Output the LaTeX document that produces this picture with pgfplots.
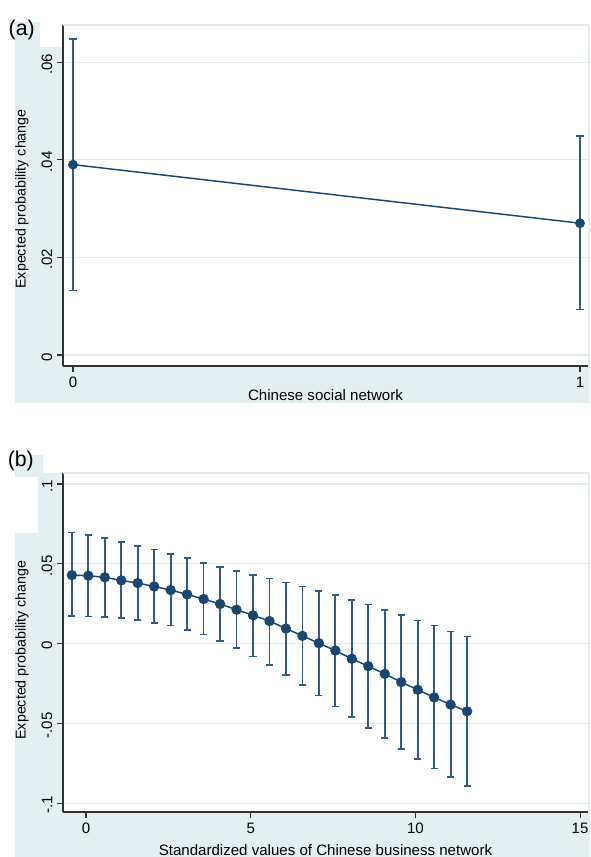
\documentclass[border=0pt]{standalone}
\usepackage{fontspec}
\setmainfont{Liberation Sans}
\usepackage{pgfplots}
\pgfplotsset{compat=1.18}
\usepackage{pgfplotstable}

\definecolor{bgblue}{RGB}{228,239,242}
\definecolor{gridblue}{RGB}{224,236,240}
\definecolor{navy}{RGB}{26,71,111}
\definecolor{errblue}{RGB}{50,90,140}
\definecolor{axisgray}{RGB}{50,50,50}

\pgfplotstableread{
x y lo hi
0 0.0390 0.0132 0.0648
1 0.0270 0.0093 0.0449
}\tabA

\pgfplotstableread{
x y lo hi
-0.43 0.0429 0.0171 0.0696
0.07 0.0425 0.0169 0.0681
0.57 0.0415 0.0165 0.0660
1.07 0.0396 0.0158 0.0635
1.57 0.0379 0.0148 0.0613
2.07 0.0358 0.0129 0.0590
2.57 0.0335 0.0113 0.0563
3.07 0.0308 0.0086 0.0535
3.57 0.0279 0.0056 0.0506
4.07 0.0248 0.0014 0.0481
4.57 0.0212 -0.0029 0.0456
5.07 0.0177 -0.0081 0.0431
5.57 0.0141 -0.0133 0.0408
6.07 0.0094 -0.0196 0.0383
6.57 0.0048 -0.0258 0.0357
7.07 0.0002 -0.0325 0.0330
7.57 -0.0044 -0.0394 0.0302
8.07 -0.0096 -0.0461 0.0273
8.57 -0.0142 -0.0529 0.0244
9.07 -0.0190 -0.0594 0.0212
9.57 -0.0242 -0.0661 0.0177
10.07 -0.0290 -0.0723 0.0144
10.57 -0.0338 -0.0783 0.0113
11.07 -0.0383 -0.0838 0.0075
11.57 -0.0425 -0.0892 0.0044
}\tabB

\pgfplotsset{stata/.style={
  scale only axis,
  axis lines=left,
  axis line style={-, draw=axisgray, line width=0.8pt},
  tick align=outside,
  major tick length=4.5pt,
  every tick/.style={draw=axisgray, line width=0.8pt},
  ymajorgrids,
  grid style={draw=gridblue, line width=0.8pt},
  axis background/.style={fill=white},
  scaled y ticks=false, scaled x ticks=false,
  tick label style={font=\fontsize{11.3}{13}\selectfont, text=black},
  label style={font=\fontsize{11.3}{13}\selectfont, text=black},
  yticklabel style={rotate=90, anchor=south, xshift=-1.5pt},
  clip=false,
  ylabel style={font=\fontsize{10.7}{13}\selectfont, anchor=center},
  errbar/.style={errblue, line width=1.3pt, only marks, mark=none, forget plot,
    error bars/.cd, y dir=both, y explicit,
    error bar style={solid, errblue, line width=1.3pt}},
  errcap/.style={errblue, line width=1.3pt, only marks, mark=-, mark size=2.7pt,
    mark options={solid, errblue, line width=1.3pt}, forget plot},
}}

\begin{document}
\begin{tikzpicture}
\path[use as bounding box] (0,0) rectangle (442.5pt,642.75pt);
% panel (a) background
\fill[bgblue] (11.25pt,340.5pt) rectangle (442.5pt,624pt);
\fill[white] (30pt,607.5pt) rectangle (47.25pt,625pt);
\fill[bgblue] (11.25pt,607.5pt) rectangle (30pt,626.25pt);
% panel (b) background
\fill[bgblue] (11.25pt,0pt) rectangle (442.5pt,288pt);
\fill[bgblue] (11.25pt,285pt) rectangle (32.25pt,301.5pt);
\fill[white] (11.25pt,243pt) rectangle (28.5pt,285pt);

\node[font=\fontsize{16}{18}\selectfont] at (16.3pt,620.5pt) {(a)};
\node[font=\fontsize{16}{18}\selectfont] at (15.6pt,297pt) {(b)};

\begin{axis}[stata,
  at={(47.25pt,368.25pt)}, anchor=south west,
  width=393.75pt, height=255.75pt,
  xmin=-0.0197, xmax=1.0158,
  ymin=-0.00225, ymax=0.0676,
  xtick={0,1}, xticklabels={0,1},
  ytick={0,0.02,0.04,0.06}, yticklabels={0,.02,.04,.06},
  xlabel={Chinese social network},
  xlabel style={at={(axis description cs:0.5,-0.1026)}, anchor=base},
  ylabel={Expected probability change},
  ylabel style={at={(axis description cs:-0.078,0.49)}},
]
\draw[gridblue, line width=0.8pt] (rel axis cs:0,1) -- (rel axis cs:1,1);
\addplot[errbar]
  table[x=x, y=y, y error plus expr=\thisrow{hi}-\thisrow{y}, y error minus expr=\thisrow{y}-\thisrow{lo}] {\tabA};
\addplot[errcap] table[x=x, y=hi] {\tabA};
\addplot[errcap] table[x=x, y=lo] {\tabA};
\addplot[navy, line width=1.1pt, mark=*, mark size=3.1pt, mark options={fill=navy, draw=navy}]
  table[x=x, y=y] {\tabA};
\end{axis}

\begin{axis}[stata,
  at={(47.25pt,33.75pt)}, anchor=south west,
  width=393.75pt, height=254.25pt,
  xmin=-0.698, xmax=15.24,
  ymin=-0.1056, ymax=0.1069,
  xtick={0,5,10,15}, xticklabels={0,5,10,15},
  ytick={-0.1,-0.05,0,0.05,0.1}, yticklabels={-.1,-.05,0,.05,.1},
  xlabel={Standardized values of Chinese business network},
  xlabel style={at={(axis description cs:0.5,-0.128)}, anchor=base},
  ylabel={Expected probability change},
  ylabel style={at={(axis description cs:-0.078,0.478)}},
]
\draw[gridblue, line width=0.8pt] (rel axis cs:0,1) -- (rel axis cs:1,1);
\addplot[errbar]
  table[x=x, y=y, y error plus expr=\thisrow{hi}-\thisrow{y}, y error minus expr=\thisrow{y}-\thisrow{lo}] {\tabB};
\addplot[errcap] table[x=x, y=hi] {\tabB};
\addplot[errcap] table[x=x, y=lo] {\tabB};
\addplot[navy, line width=1.1pt, mark=*, mark size=3.3pt, mark options={fill=navy, draw=navy}]
  table[x=x, y=y] {\tabB};
\end{axis}
\end{tikzpicture}
\end{document}
